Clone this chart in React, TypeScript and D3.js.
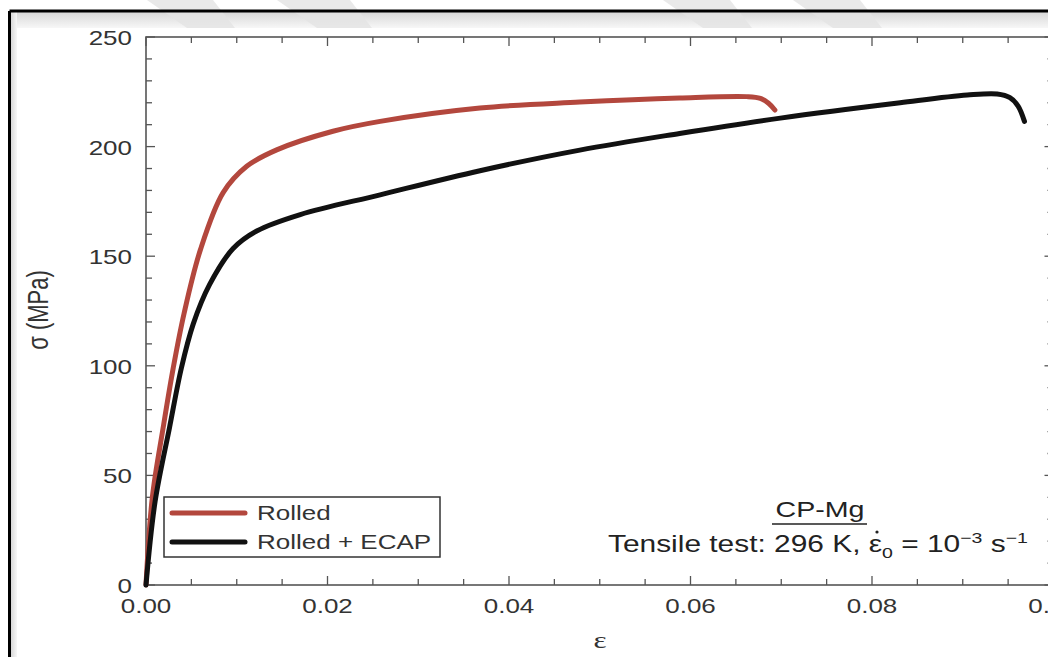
import React from "react";
import * as d3 from "d3";

const rolledStrain = [0.0, 0.0007, 0.0019, 0.003, 0.0042, 0.006, 0.0085, 0.0111, 0.0144, 0.0206, 0.0258, 0.0368, 0.0478, 0.0588, 0.0662, 0.0677, 0.0686, 0.0693];
const rolledStress = [0, 40, 72, 99, 124, 153, 179, 191, 198.5, 207, 211.5, 217.6, 220.3, 222.2, 222.8, 222, 219.8, 216.7];

const ecapStrain = [0.0, 0.001, 0.0026, 0.0039, 0.0052, 0.007, 0.0096, 0.0122, 0.017, 0.0258, 0.0368, 0.0478, 0.0588, 0.0699, 0.0831, 0.0905, 0.0938, 0.0952, 0.0961, 0.0968];
const ecapStress = [0, 38, 72, 99, 119, 137, 153.5, 161.5, 169, 178, 189, 198.4, 206, 213, 220, 223.5, 224, 222.3, 218.5, 211.5];

const xTicks = [0, 0.02, 0.04, 0.06, 0.08, 0.1];
const xTickLabels = ["0.00", "0.02", "0.04", "0.06", "0.08", "0.10"];
const yTicks = [0, 50, 100, 150, 200, 250];
const yTickLabels = ["0", "50", "100", "150", "200", "250"];
const seriesNames = ["Rolled", "Rolled + ECAP"];
const seriesColors = ["#b3473d", "#111111"];

const W = 1048;
const H = 657;
const FONT = "'Liberation Sans', Arial, Helvetica, sans-serif";
const SX = 1.3;

export default function App() {
  const x = d3.scaleLinear().domain([0, 0.1]).range([146, 1053.5]);
  const y = d3.scaleLinear().domain([0, 250]).range([585, 37]);

  const line = d3
    .line<[number, number]>()
    .x((d) => x(d[0]))
    .y((d) => y(d[1]))
    .curve(d3.curveCatmullRom.alpha(0.5));

  const rolled: [number, number][] = rolledStrain.map((e, i) => [e, rolledStress[i]]);
  const ecap: [number, number][] = ecapStrain.map((e, i) => [e, ecapStress[i]]);

  const xMinor = d3.range(0, 0.1001, 0.005);
  const yMinor = d3.range(0, 250.1, 10);
  const axisColor = "#555";

  const stripes = [
    [147, 213],
    [277, 350],
    [663, 730],
    [793, 860],
  ];

  return (
    <svg
      width={W}
      height={H}
      style={{ position: "absolute", left: 0, top: 0, background: "#fff" }}
    >
      <defs>
        <linearGradient id="topband" x1="0" y1="0" x2="0" y2="1">
          <stop offset="0" stopColor="#d8d8d8" />
          <stop offset="1" stopColor="#f7f7f7" />
        </linearGradient>
        <linearGradient id="leftband" x1="0" y1="0" x2="1" y2="0">
          <stop offset="0" stopColor="#d8d8d8" />
          <stop offset="1" stopColor="#f7f7f7" />
        </linearGradient>
      </defs>
      <rect x={0} y={0} width={W} height={H} fill="#fff" />
      <rect x={11} y={12} width={W} height={16} fill="url(#topband)" />
      <rect x={11} y={12} width={6} height={H} fill="url(#leftband)" />
      {stripes.map(([a, b], i) => (
        <polygon
          key={i}
          points={`${a},0 ${b},0 ${b + 22},28 ${a + 40},28`}
          fill="#e4e4e4"
          opacity={0.8}
        />
      ))}
      <line x1={9.5} y1={11} x2={W} y2={11} stroke="#000" strokeWidth={3} />
      <line x1={9.5} y1={11} x2={9.5} y2={H} stroke="#000" strokeWidth={3} />

      <rect
        x={x(0)}
        y={y(250)}
        width={x(0.1) - x(0)}
        height={y(0) - y(250)}
        fill="none"
        stroke={axisColor}
        strokeWidth={1.6}
      />
      {xMinor.map((t, i) => {
        const major = i % 4 === 0;
        const len = major ? 9 : 6;
        return (
          <g key={"xt" + i}>
            <line x1={x(t)} x2={x(t)} y1={y(0)} y2={y(0) - len} stroke={axisColor} strokeWidth={1.3} />
            <line x1={x(t)} x2={x(t)} y1={y(250)} y2={y(250) + len} stroke={axisColor} strokeWidth={1.3} />
          </g>
        );
      })}
      {yMinor.map((t, i) => {
        const major = i % 5 === 0;
        const len = major ? 9 : 6;
        return (
          <g key={"yt" + i}>
            <line x1={x(0)} x2={x(0) + len} y1={y(t)} y2={y(t)} stroke={axisColor} strokeWidth={1.3} />
            <line x1={x(0.1)} x2={x(0.1) - len} y1={y(t)} y2={y(t)} stroke={axisColor} strokeWidth={1.3} />
          </g>
        );
      })}
      {xTicks.map((t, i) => (
        <text
          key={"xl" + i}
          transform={`translate(${x(t)},613) scale(${SX},1)`}
          textAnchor="middle"
          fontFamily={FONT}
          fontSize={20}
          fill="#333"
        >
          {xTickLabels[i]}
        </text>
      ))}
      {yTicks.map((t, i) => (
        <text
          key={"yl" + i}
          transform={`translate(132,${y(t) + 8}) scale(${SX},1)`}
          textAnchor="end"
          fontFamily={FONT}
          fontSize={20}
          fill="#333"
        >
          {yTickLabels[i]}
        </text>
      ))}
      <text
        transform={`translate(600,648) scale(${SX},1)`}
        textAnchor="middle"
        fontFamily="'Liberation Serif', 'DejaVu Serif', serif"
        fontSize={24}
        fill="#333"
      >
        ε
      </text>
      <text
        transform={`translate(48,310) scale(${SX},1) rotate(-90)`}
        textAnchor="middle"
        fontFamily={FONT}
        fontSize={22}
        fill="#333"
      >
        σ (MPa)
      </text>

      <path d={line(rolled) || ""} fill="none" stroke={seriesColors[0]} strokeWidth={5} strokeLinecap="round" strokeLinejoin="round" />
      <path d={line(ecap) || ""} fill="none" stroke={seriesColors[1]} strokeWidth={5} strokeLinecap="round" strokeLinejoin="round" />

      <rect x={164} y={497} width={276} height={60} fill="#fff" stroke="#333" strokeWidth={1.5} />
      {seriesNames.map((n, i) => (
        <g key={"lg" + i}>
          <line x1={172} x2={245} y1={513 + i * 29} y2={513 + i * 29} stroke={seriesColors[i]} strokeWidth={5} strokeLinecap="round" />
          <text
            transform={`translate(257,${520 + i * 29}) scale(${SX},1)`}
            fontFamily={FONT}
            fontSize={20}
            fill="#333"
          >
            {n}
          </text>
        </g>
      ))}

      <text
        transform={`translate(820,517) scale(${SX},1)`}
        textAnchor="middle"
        fontFamily={FONT}
        fontSize={22}
        fill="#222"
      >
        CP-Mg
      </text>
      <line x1={772} x2={867} y1={524} y2={524} stroke="#222" strokeWidth={1.5} />
      <text
        transform={`translate(608,552) scale(${SX},1)`}
        fontFamily={FONT}
        fontSize={23}
        fill="#222"
      >
        <tspan>Tensile test: 296 K, ε</tspan>
        <tspan fontSize={15} dy={6}>0</tspan>
        <tspan dy={-6}> = 10</tspan>
        <tspan fontSize={15} dy={-9}>−3</tspan>
        <tspan dy={9}> s</tspan>
        <tspan fontSize={15} dy={-9}>−1</tspan>
      </text>
      <circle cx={877} cy={532} r={1.6} fill="#222" />
    </svg>
  );
}
